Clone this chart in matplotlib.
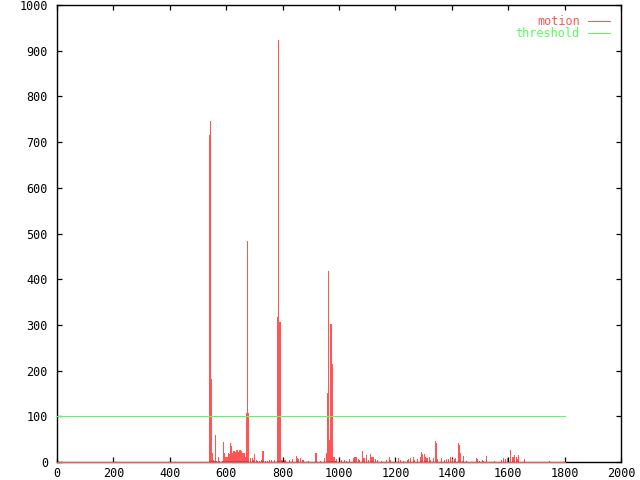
# Motion per frame against a fixed threshold, drawn in the old gnuplot style
import numpy as np
import matplotlib
matplotlib.use('Agg')
import matplotlib.pyplot as plt

# data (frames not listed are zero)
n_frames = 1801
threshold = 100
motion_frames = [
    539, 540, 541, 542, 543, 545, 546, 547, 549, 551, 553, 556, 560, 562, 565, 570, 576, 584,
    589, 591, 594, 597, 600, 603, 606, 609, 612, 614, 616, 618, 620, 622, 624, 627,
    629, 631, 633, 636, 638, 640, 642, 645, 647, 649, 651, 654, 656, 658, 660, 663,
    666, 669, 672, 675, 677, 679, 683, 686, 690, 694, 697, 700, 704, 710, 718, 722,
    727, 729, 732, 737, 745, 752, 760, 770, 779, 782, 785, 787, 790, 794, 797, 805,
    808, 822, 834, 846, 852, 856, 860, 863, 870, 874, 889, 914, 917, 934, 946, 954,
    957, 959, 961, 963, 965, 967, 969, 971, 974, 976, 980, 983, 987, 991, 1008, 1017,
    1025, 1034, 1048, 1052, 1056, 1060, 1066, 1071, 1082, 1086, 1090, 1097, 1102, 1110,
    1114, 1118, 1121, 1126, 1136, 1150, 1165, 1176, 1182, 1209, 1218, 1228, 1240, 1245,
    1251, 1261, 1266, 1277, 1287, 1292, 1296, 1300, 1304, 1308, 1311, 1318, 1324, 1334,
    1341, 1344, 1348, 1360, 1374, 1381, 1387, 1392, 1402, 1409, 1413, 1422, 1426, 1429,
    1435, 1441, 1450, 1487, 1491, 1495, 1506, 1510, 1522, 1548, 1576, 1582, 1590, 1595,
    1605, 1608, 1612, 1617, 1622, 1627, 1631, 1636, 1655, 1745,
]
motion_values = [
    715, 712, 712, 715, 746, 182, 182, 182, 19, 19, 4, 3, 59, 17, 3, 10, 2, 3,
    44, 19, 12, 12, 10, 12, 19, 18, 42, 20, 22, 35, 18, 20, 23, 20,
    24, 22, 26, 20, 24, 26, 22, 26, 24, 26, 20, 24, 19, 19, 18, 20,
    12, 108, 110, 484, 108, 13, 8, 3, 8, 4, 17, 17, 4, 2, 2, 4,
    24, 24, 17, 2, 2, 4, 4, 4, 317, 317, 923, 306, 306, 4, 4, 5,
    5, 4, 7, 13, 8, 6, 8, 5, 5, 4, 2, 19, 19, 2, 8, 19,
    152, 152, 418, 48, 48, 80, 302, 302, 215, 215, 12, 12, 2, 7, 4, 5,
    2, 7, 9, 10, 10, 10, 6, 4, 23, 8, 8, 15, 4, 17,
    10, 10, 10, 7, 4, 2, 4, 10, 4, 8, 4, 2, 4, 6,
    8, 10, 4, 7, 12, 21, 17, 17, 12, 8, 8, 10, 4, 8,
    46, 42, 7, 8, 4, 6, 6, 12, 6, 7, 9, 42, 37, 19,
    2, 13, 2, 9, 6, 2, 4, 3, 13, 2, 4, 9, 6, 9,
    7, 26, 10, 10, 15, 10, 6, 15, 6, 2,
]

motion = np.zeros(n_frames)
motion[motion_frames] = motion_values
frames = np.arange(n_frames)

red = '#ff5555'
green = '#55ff55'
plt.rcParams['font.family'] = ['DejaVu Sans Mono']

fig = plt.figure(figsize=(6.4, 4.8), dpi=100)
ax = fig.add_axes([57 / 640, 18 / 480, 564 / 640, 457 / 480])

# impulses, 1 px wide like gnuplot
lw = 0.72
nz = motion > 0
ax.vlines(frames[nz], 0, motion[nz], color=red, lw=lw, antialiased=False, zorder=2)
ax.hlines(0, frames[0], frames[-1], color=red, lw=lw, antialiased=False, zorder=5, clip_on=False)
# threshold line
ax.hlines(threshold, frames[0], frames[-1], color=green, lw=lw, antialiased=False, zorder=3)

ax.set_xlim(0, 2000)
ax.set_ylim(0, 1000)
ax.set_xticks(np.arange(0, 2001, 200))
ax.set_yticks(np.arange(0, 1001, 100))
ax.tick_params(direction='in', length=3.6, width=0.9, top=True, right=True,
               labelsize=8.5, colors='black')
ax.tick_params(axis='y', pad=6.5)
ax.tick_params(axis='x', pad=3.5)
for s in ax.spines.values():
    s.set_linewidth(1.0)

# legend, gnuplot style (text right aligned, sample after it)
ax.text(0.927, 0.964, 'motion', color=red, fontsize=8.5, ha='right', va='center',
        transform=ax.transAxes)
ax.plot([0.9415, 0.9805], [0.964, 0.964], color=red, lw=lw, antialiased=False,
        transform=ax.transAxes)
ax.text(0.927, 0.938, 'threshold', color=green, fontsize=8.5, ha='right', va='center',
        transform=ax.transAxes)
ax.plot([0.9415, 0.9805], [0.938, 0.938], color=green, lw=lw, antialiased=False,
        transform=ax.transAxes)

fig.savefig('out.png', dpi=100)
